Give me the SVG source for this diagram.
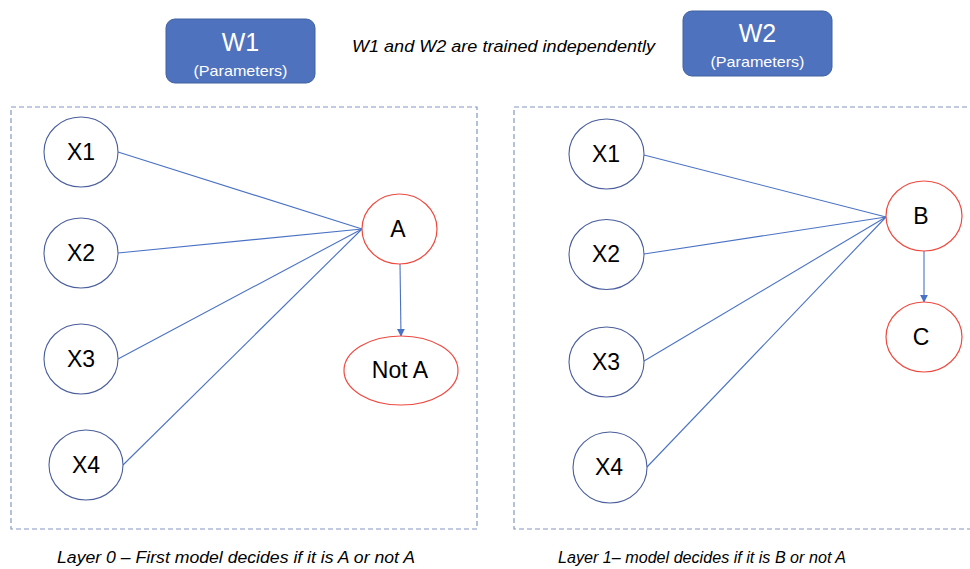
<svg xmlns="http://www.w3.org/2000/svg" width="970" height="569" viewBox="0 0 970 569">
<defs>
<style>
.frame{fill:none;stroke:#8496c4;stroke-width:1.2;stroke-dasharray:5,3}
.xn{fill:#fff;stroke:#4a5e9c;stroke-width:1.1}
.rn{fill:#fff;stroke:#ee4a40;stroke-width:1.2}
.lbl{font-family:"Liberation Sans",Arial,sans-serif;font-size:23px;fill:#000;text-anchor:middle}
.param{fill:#4f72be;stroke:#41609f;stroke-width:1}
.pt{font-family:"Liberation Sans",Arial,sans-serif;fill:#fff;text-anchor:middle}
.note{font-family:"Liberation Sans",Arial,sans-serif;font-style:italic;font-size:16px;fill:#000}
.conn{stroke:#4a72c4;stroke-width:1.1;fill:none}
</style>
<marker id="arr" viewBox="0 0 10 10" refX="9" refY="5" markerWidth="8" markerHeight="8" markerUnits="userSpaceOnUse" orient="auto">
<path d="M0,0 L10,5 L0,10 Z" fill="#4a72c4"/>
</marker>
</defs>
<rect width="970" height="569" fill="#fff"/>

<rect class="frame" x="11" y="107" width="466" height="422"/>
<rect class="frame" x="514" y="107" width="470" height="422"/>

<g id="W1">
<rect class="param" x="166" y="19" width="149" height="64" rx="9"/>
<text class="pt" x="240.5" y="51" font-size="25">W1</text>
<text class="pt" x="240.5" y="76" font-size="15" textLength="94" lengthAdjust="spacingAndGlyphs">(Parameters)</text>
</g>
<g id="W2">
<rect class="param" x="683" y="11" width="149" height="65" rx="9"/>
<text class="pt" x="757.5" y="42" font-size="25">W2</text>
<text class="pt" x="757.5" y="67" font-size="15" textLength="94" lengthAdjust="spacingAndGlyphs">(Parameters)</text>
</g>
<text class="note" x="352" y="52" textLength="303" lengthAdjust="spacingAndGlyphs">W1 and W2 are trained independently</text>

<g id="connectors">
<line class="conn" x1="118" y1="152" x2="362" y2="229"/>
<line class="conn" x1="118" y1="253" x2="362" y2="229"/>
<line class="conn" x1="118" y1="359" x2="362" y2="229"/>
<line class="conn" x1="123" y1="465" x2="362" y2="229"/>
<line class="conn" x1="400" y1="264" x2="401" y2="336" marker-end="url(#arr)"/>
<line class="conn" x1="644" y1="155" x2="886" y2="217"/>
<line class="conn" x1="644" y1="254" x2="886" y2="217"/>
<line class="conn" x1="644" y1="361" x2="886" y2="217"/>
<line class="conn" x1="647" y1="467" x2="886" y2="217"/>
<line class="conn" x1="924" y1="251" x2="924" y2="302" marker-end="url(#arr)"/>
</g>

<g id="L0_X1"><ellipse class="xn" cx="81" cy="152" rx="37" ry="35"/><text class="lbl" x="81" y="160">X1</text></g>
<g id="L0_X2"><ellipse class="xn" cx="81" cy="253" rx="37" ry="35"/><text class="lbl" x="81" y="261">X2</text></g>
<g id="L0_X3"><ellipse class="xn" cx="81" cy="359" rx="37" ry="35"/><text class="lbl" x="81" y="367">X3</text></g>
<g id="L0_X4"><ellipse class="xn" cx="86" cy="465" rx="37" ry="35"/><text class="lbl" x="86" y="473">X4</text></g>
<g id="A"><ellipse class="rn" cx="399.5" cy="229" rx="37.5" ry="35"/><text class="lbl" x="398" y="237">A</text></g>
<g id="NotA"><ellipse class="rn" cx="401" cy="370.5" rx="57" ry="34.5"/><text class="lbl" x="400" y="378">Not A</text></g>

<g id="L1_X1"><ellipse class="xn" cx="606.5" cy="154" rx="37.5" ry="35"/><text class="lbl" x="606" y="162">X1</text></g>
<g id="L1_X2"><ellipse class="xn" cx="606.5" cy="254.5" rx="37.5" ry="35"/><text class="lbl" x="606" y="262">X2</text></g>
<g id="L1_X3"><ellipse class="xn" cx="606.5" cy="362" rx="37.5" ry="35"/><text class="lbl" x="606" y="370">X3</text></g>
<g id="L1_X4"><ellipse class="xn" cx="610" cy="467.5" rx="37" ry="35.5"/><text class="lbl" x="609" y="475">X4</text></g>
<g id="B"><ellipse class="rn" cx="924" cy="216" rx="38" ry="35"/><text class="lbl" x="921" y="224">B</text></g>
<g id="C"><ellipse class="rn" cx="924" cy="337" rx="38" ry="35"/><text class="lbl" x="921" y="345">C</text></g>

<text class="note" x="57" y="563" textLength="358" lengthAdjust="spacingAndGlyphs">Layer 0 – First model decides if it is A or not A</text>
<text class="note" x="558" y="563" textLength="288" lengthAdjust="spacingAndGlyphs">Layer 1– model decides if it is B or not A</text>
</svg>
